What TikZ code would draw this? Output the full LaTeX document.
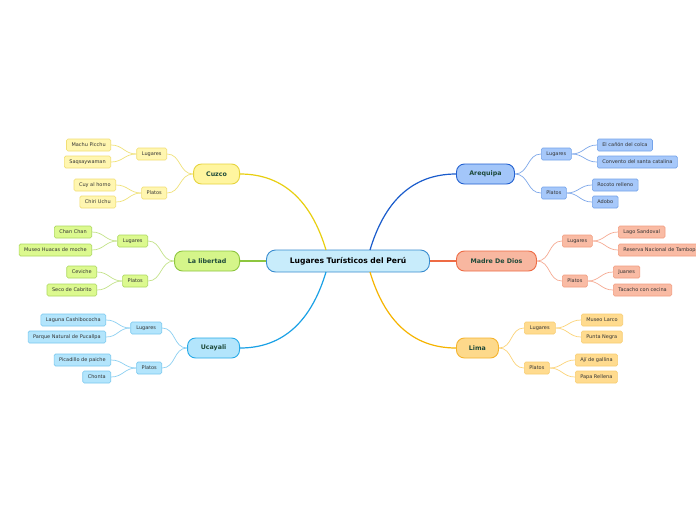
\documentclass[tikz,border=0pt]{standalone}
\usepackage{fontspec}
\setmainfont{DejaVu Sans}
\definecolor{yF}{HTML}{FFF59F}\definecolor{yB}{HTML}{E6D43E}\definecolor{yF2}{HTML}{FFF6B0}\definecolor{yB2}{HTML}{F2DF74}\definecolor{yL}{HTML}{E8CF10}\definecolor{yl}{HTML}{F0E27A}
\definecolor{gF}{HTML}{D5F58A}\definecolor{gB}{HTML}{8EC63F}\definecolor{gF2}{HTML}{DCF98F}\definecolor{gB2}{HTML}{ACD85E}\definecolor{gL}{HTML}{8DC63F}\definecolor{gl}{HTML}{C4E38A}
\definecolor{cF}{HTML}{B3E5FC}\definecolor{cB}{HTML}{27AAE8}\definecolor{cF2}{HTML}{B3E5FC}\definecolor{cB2}{HTML}{79C8EF}\definecolor{cL}{HTML}{1AA1E6}\definecolor{cl}{HTML}{8DD0F2}
\definecolor{bF}{HTML}{A3C6F9}\definecolor{bB}{HTML}{2260D0}\definecolor{bF2}{HTML}{A6C8FA}\definecolor{bB2}{HTML}{74A3EA}\definecolor{bL}{HTML}{1A5CCC}\definecolor{bl}{HTML}{7EA8EA}
\definecolor{rF}{HTML}{F8B7A0}\definecolor{rB}{HTML}{EE6B44}\definecolor{rF2}{HTML}{F9BBA4}\definecolor{rB2}{HTML}{F29D80}\definecolor{rL}{HTML}{EE6B44}\definecolor{rl}{HTML}{F6AC94}
\definecolor{oF}{HTML}{FDD98B}\definecolor{oB}{HTML}{F5B42E}\definecolor{oF2}{HTML}{FFDB8F}\definecolor{oB2}{HTML}{F7CD72}\definecolor{oL}{HTML}{F6B400}\definecolor{ol}{HTML}{FCD47A}
\definecolor{rootF}{HTML}{C8ECFB}\definecolor{rootB}{HTML}{3A8DD0}
\definecolor{topicT}{HTML}{1E4A3A}\definecolor{leafT}{HTML}{333333}
\tikzset{
  rootnode/.style={draw=rootB, fill=rootF, line width=0.9pt, rounded corners=9pt, minimum width=163pt, minimum height=22pt, inner sep=0pt, font=\fontsize{7.6}{9}\selectfont\bfseries, text=black},
  topic/.style={line width=0.9pt, rounded corners=8pt, minimum height=20pt, inner sep=0pt, font=\fontsize{6.3}{8}\selectfont\bfseries, text=topicT},
  leaf/.style={line width=0.6pt, rounded corners=1.5pt, minimum height=12pt, inner xsep=5pt, inner ysep=0pt, font=\fontsize{5}{6}\selectfont, text=leafT},
  mainline/.style={line width=1.2pt},
  subline/.style={line width=0.7pt}
}
\begin{document}
\begin{tikzpicture}[x=1pt,y=-1pt]
\useasboundingbox (0,0) rectangle (696,520);
\clip (0,0) rectangle (696,520);
\fill[white] (0,0) rectangle (696,520);
% root
\node[rootnode] (root) at (348,261) {Lugares Turísticos del Perú};
\coordinate (rTL) at (326,250);
\coordinate (rBL) at (326,272);
\coordinate (rTR) at (370,250);
\coordinate (rBR) at (370,272);
% ---------------- Cuzco
\node[topic, fill=yF, draw=yB, minimum width=46pt, anchor=east] (cz) at (240,174) {Cuzco};
\node[leaf, fill=yF2, draw=yB2, minimum width=30pt, anchor=east] (czL) at (167,154) {Lugares};
\node[leaf, fill=yF2, draw=yB2, minimum width=25pt, anchor=east] (czP) at (167,193) {Platos};
\node[leaf, fill=yF2, draw=yB2, anchor=east] (cz1) at (111,145) {Machu Picchu};
\node[leaf, fill=yF2, draw=yB2, anchor=east] (cz2) at (111,162) {Saqsaywaman};
\node[leaf, fill=yF2, draw=yB2, anchor=east] (cz3) at (116,185) {Cuy al horno};
\node[leaf, fill=yF2, draw=yB2, anchor=east] (cz4) at (116,202) {Chiri Uchu};
\draw[mainline, yL] (cz.east) .. controls +(50,0) and +(-12,-40) .. (rTL);
\draw[subline, yl] (cz.west) .. controls +(-14,0) and +(14,0) .. (czL.east);
\draw[subline, yl] (cz.west) .. controls +(-14,0) and +(14,0) .. (czP.east);
\draw[subline, yl] (czL.west) .. controls +(-12,0) and +(12,0) .. (cz1.east);
\draw[subline, yl] (czL.west) .. controls +(-12,0) and +(12,0) .. (cz2.east);
\draw[subline, yl] (czP.west) .. controls +(-12,0) and +(12,0) .. (cz3.east);
\draw[subline, yl] (czP.west) .. controls +(-12,0) and +(12,0) .. (cz4.east);
% ---------------- La libertad
\node[topic, fill=gF, draw=gB, minimum width=65pt, anchor=east] (lb) at (240,261) {La libertad};
\node[leaf, fill=gF2, draw=gB2, minimum width=30pt, anchor=east] (lbL) at (148,241) {Lugares};
\node[leaf, fill=gF2, draw=gB2, minimum width=25pt, anchor=east] (lbP) at (148,281) {Platos};
\node[leaf, fill=gF2, draw=gB2, anchor=east] (lb1) at (92,232) {Chan Chan};
\node[leaf, fill=gF2, draw=gB2, anchor=east] (lb2) at (92,250) {Museo Huacas de moche};
\node[leaf, fill=gF2, draw=gB2, anchor=east] (lb3) at (97,272) {Ceviche};
\node[leaf, fill=gF2, draw=gB2, anchor=east] (lb4) at (97,290) {Seco de Cabrito};
\draw[mainline, gL] (lb.east) -- (root.west);
\draw[subline, gl] (lb.west) .. controls +(-14,0) and +(14,0) .. (lbL.east);
\draw[subline, gl] (lb.west) .. controls +(-14,0) and +(14,0) .. (lbP.east);
\draw[subline, gl] (lbL.west) .. controls +(-12,0) and +(12,0) .. (lb1.east);
\draw[subline, gl] (lbL.west) .. controls +(-12,0) and +(12,0) .. (lb2.east);
\draw[subline, gl] (lbP.west) .. controls +(-12,0) and +(12,0) .. (lb3.east);
\draw[subline, gl] (lbP.west) .. controls +(-12,0) and +(12,0) .. (lb4.east);
% ---------------- Ucayali
\node[topic, fill=cF, draw=cB, minimum width=52pt, anchor=east] (uc) at (240,348) {Ucayali};
\node[leaf, fill=cF2, draw=cB2, minimum width=31pt, anchor=east] (ucL) at (162,328) {Lugares};
\node[leaf, fill=cF2, draw=cB2, minimum width=25pt, anchor=east] (ucP) at (162,368) {Platos};
\node[leaf, fill=cF2, draw=cB2, anchor=east] (uc1) at (106,320) {Laguna Cashibococha};
\node[leaf, fill=cF2, draw=cB2, anchor=east] (uc2) at (106,337) {Parque Natural de Pucallpa};
\node[leaf, fill=cF2, draw=cB2, anchor=east] (uc3) at (111,360) {Picadillo de paiche};
\node[leaf, fill=cF2, draw=cB2, anchor=east] (uc4) at (111,377) {Chonta};
\draw[mainline, cL] (uc.east) .. controls +(50,0) and +(-12,40) .. (rBL);
\draw[subline, cl] (uc.west) .. controls +(-14,0) and +(14,0) .. (ucL.east);
\draw[subline, cl] (uc.west) .. controls +(-14,0) and +(14,0) .. (ucP.east);
\draw[subline, cl] (ucL.west) .. controls +(-12,0) and +(12,0) .. (uc1.east);
\draw[subline, cl] (ucL.west) .. controls +(-12,0) and +(12,0) .. (uc2.east);
\draw[subline, cl] (ucP.west) .. controls +(-12,0) and +(12,0) .. (uc3.east);
\draw[subline, cl] (ucP.west) .. controls +(-12,0) and +(12,0) .. (uc4.east);
% ---------------- Arequipa
\node[topic, fill=bF, draw=bB, minimum width=58pt, anchor=west] (aq) at (456,174) {Arequipa};
\node[leaf, fill=bF2, draw=bB2, minimum width=30pt, anchor=west] (aqL) at (541,154) {Lugares};
\node[leaf, fill=bF2, draw=bB2, minimum width=24pt, anchor=west] (aqP) at (541,193) {Platos};
\node[leaf, fill=bF2, draw=bB2, anchor=west] (aq1) at (597,145) {El cañón del colca};
\node[leaf, fill=bF2, draw=bB2, anchor=west] (aq2) at (597,162) {Convento del santa catalina};
\node[leaf, fill=bF2, draw=bB2, anchor=west] (aq3) at (592,185) {Rocoto relleno};
\node[leaf, fill=bF2, draw=bB2, anchor=west] (aq4) at (592,202) {Adobo};
\draw[mainline, bL] (aq.west) .. controls +(-50,0) and +(12,-40) .. (rTR);
\draw[subline, bl] (aq.east) .. controls +(14,0) and +(-14,0) .. (aqL.west);
\draw[subline, bl] (aq.east) .. controls +(14,0) and +(-14,0) .. (aqP.west);
\draw[subline, bl] (aqL.east) .. controls +(12,0) and +(-12,0) .. (aq1.west);
\draw[subline, bl] (aqL.east) .. controls +(12,0) and +(-12,0) .. (aq2.west);
\draw[subline, bl] (aqP.east) .. controls +(12,0) and +(-12,0) .. (aq3.west);
\draw[subline, bl] (aqP.east) .. controls +(12,0) and +(-12,0) .. (aq4.west);
% ---------------- Madre De Dios
\node[topic, fill=rF, draw=rB, minimum width=80pt, anchor=west] (md) at (456,261) {Madre De Dios};
\node[leaf, fill=rF2, draw=rB2, minimum width=30pt, anchor=west] (mdL) at (562,241) {Lugares};
\node[leaf, fill=rF2, draw=rB2, minimum width=25pt, anchor=west] (mdP) at (562,281) {Platos};
\node[leaf, fill=rF2, draw=rB2, anchor=west] (md1) at (618,232) {Lago Sandoval};
\node[leaf, fill=rF2, draw=rB2, anchor=west] (md2) at (618,250) {Reserva Nacional de Tambopata};
\node[leaf, fill=rF2, draw=rB2, anchor=west] (md3) at (613,272) {Juanes};
\node[leaf, fill=rF2, draw=rB2, anchor=west] (md4) at (613,290) {Tacacho con cecina};
\draw[mainline, rL] (root.east) -- (md.west);
\draw[subline, rl] (md.east) .. controls +(14,0) and +(-14,0) .. (mdL.west);
\draw[subline, rl] (md.east) .. controls +(14,0) and +(-14,0) .. (mdP.west);
\draw[subline, rl] (mdL.east) .. controls +(12,0) and +(-12,0) .. (md1.west);
\draw[subline, rl] (mdL.east) .. controls +(12,0) and +(-12,0) .. (md2.west);
\draw[subline, rl] (mdP.east) .. controls +(12,0) and +(-12,0) .. (md3.west);
\draw[subline, rl] (mdP.east) .. controls +(12,0) and +(-12,0) .. (md4.west);
% ---------------- Lima
\node[topic, fill=oF, draw=oB, minimum width=42pt, anchor=west] (lm) at (456,348) {Lima};
\node[leaf, fill=oF2, draw=oB2, minimum width=31pt, anchor=west] (lmL) at (524,328) {Lugares};
\node[leaf, fill=oF2, draw=oB2, minimum width=25pt, anchor=west] (lmP) at (524,368) {Platos};
\node[leaf, fill=oF2, draw=oB2, anchor=west] (lm1) at (581,320) {Museo Larco};
\node[leaf, fill=oF2, draw=oB2, anchor=west] (lm2) at (581,337) {Punta Negra};
\node[leaf, fill=oF2, draw=oB2, anchor=west] (lm3) at (575,360) {Ají de gallina};
\node[leaf, fill=oF2, draw=oB2, anchor=west] (lm4) at (575,377) {Papa Rellena};
\draw[mainline, oL] (lm.west) .. controls +(-50,0) and +(12,40) .. (rBR);
\draw[subline, ol] (lm.east) .. controls +(14,0) and +(-14,0) .. (lmL.west);
\draw[subline, ol] (lm.east) .. controls +(14,0) and +(-14,0) .. (lmP.west);
\draw[subline, ol] (lmL.east) .. controls +(12,0) and +(-12,0) .. (lm1.west);
\draw[subline, ol] (lmL.east) .. controls +(12,0) and +(-12,0) .. (lm2.west);
\draw[subline, ol] (lmP.east) .. controls +(12,0) and +(-12,0) .. (lm3.west);
\draw[subline, ol] (lmP.east) .. controls +(12,0) and +(-12,0) .. (lm4.west);
\end{tikzpicture}
\end{document}
